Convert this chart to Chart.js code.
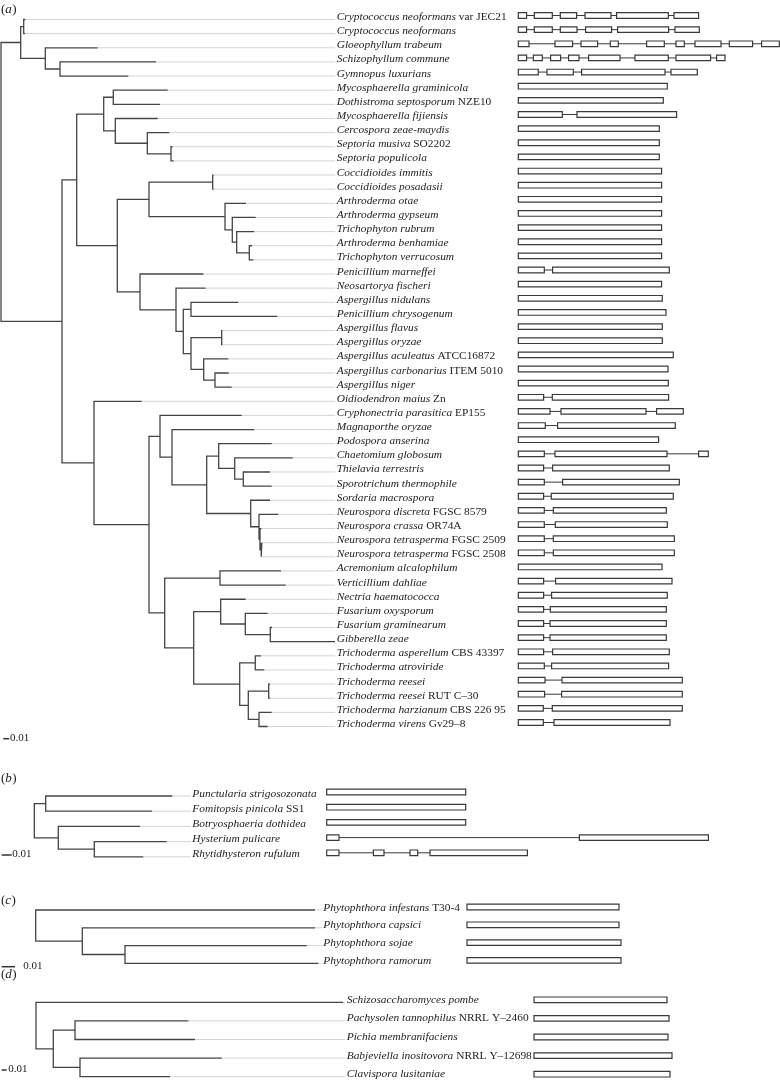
<!DOCTYPE html>
<html>
<head>
<meta charset="utf-8">
<script src="https://cdn.jsdelivr.net/npm/chart.js@4.4.1/dist/chart.umd.min.js"></script>
<style>
  body { margin: 0; background: #fff; }
  #wrap { position: relative; width: 780px; height: 1081px; }
  #wrap canvas { position: absolute; left: 0; top: 0; }
</style>
</head>
<body>
<div id="wrap">
  <canvas id="panelA" width="780" height="1081"></canvas>
  <canvas id="panelB" width="780" height="1081"></canvas>
  <canvas id="panelC" width="780" height="1081"></canvas>
  <canvas id="panelD" width="780" height="1081"></canvas>
</div>
<script>
// ---- panel (a) ----
const namesA = ['Cryptococcus neoformans', 'Cryptococcus neoformans', 'Gloeophyllum trabeum', 'Schizophyllum commune',
  'Gymnopus luxurians', 'Mycosphaerella graminicola', 'Dothistroma septosporum', 'Mycosphaerella fijiensis',
  'Cercospora zeae-maydis', 'Septoria musiva', 'Septoria populicola', 'Coccidioides immitis', 'Coccidioides posadasii',
  'Arthroderma otae', 'Arthroderma gypseum', 'Trichophyton rubrum', 'Arthroderma benhamiae', 'Trichophyton verrucosum',
  'Penicillium marneffei', 'Neosartorya fischeri', 'Aspergillus nidulans', 'Penicillium chrysogenum',
  'Aspergillus flavus', 'Aspergillus oryzae', 'Aspergillus aculeatus', 'Aspergillus carbonarius', 'Aspergillus niger',
  'Oidiodendron maius', 'Cryphonectria parasitica', 'Magnaporthe oryzae', 'Podospora anserina', 'Chaetomium globosum',
  'Thielavia terrestris', 'Sporotrichum thermophile', 'Sordaria macrospora', 'Neurospora discreta', 'Neurospora crassa',
  'Neurospora tetrasperma', 'Neurospora tetrasperma', 'Acremonium alcalophilum', 'Verticillium dahliae',
  'Nectria haematococca', 'Fusarium oxysporum', 'Fusarium graminearum', 'Gibberella zeae', 'Trichoderma asperellum',
  'Trichoderma atroviride', 'Trichoderma reesei', 'Trichoderma reesei', 'Trichoderma harzianum', 'Trichoderma virens'];
const strainsA = ['var JEC21', '', '', '', '', '', 'NZE10', '', '', 'SO2202', '', '', '', '', '', '', '', '', '', '', '', '',
  '', '', 'ATCC16872', 'ITEM 5010', '', 'Zn', 'EP155', '', '', '', '', '', '', 'FGSC 8579', 'OR74A', 'FGSC 2509',
  'FGSC 2508', '', '', '', '', '', '', 'CBS 43397', '', '', 'RUT C\u201330', 'CBS 226 95', 'Gv29\u20138'];
// tip depth of each leaf (tree units, 6 units = 0.01)
const tipsA = [24.2, 24, 96.7, 155, 127.3, 166.7, 159, 156.7, 168.3, 171.5, 172.7, 212.7, 212.7, 245, 254.7, 253, 251,
  252.3, 202.3, 204.7, 237.3, 276.3, 221.5, 221.5, 227.3, 227.7, 230.7, 140.7, 240.7, 253.3, 270.7, 291.7, 269, 270.7,
  269, 277.3, 260.5, 260.8, 260.8, 280, 284.7, 244.7, 266.7, 271, 334, 260, 263.3, 269, 269, 270.7, 266.7];
// [node depth, child, child]; a number is a leaf index
const treeA = [0,
  [19.7, [22.7, 0, 1], [44.3, 2, [59, 3, 4]]],
  [61,
    [75.7,
      [102.7, [112.3, 5, 6], [114.3, 7, [146.3, 8, [170, 9, 10]]]],
      [116.3,
        [148, [211.7, 11, 12], [224, 13, [231.3, 14, [235.7, 15, [248.3, 16, 17]]]]],
        [139, 18, [175, 19, [182.3, [190, 20, 21], [190, [220.7, 22, 23], [202.7, 24, [214, 25, 26]]]]]]]],
    [93, 27,
      [148,
        [159, 28, [171, 29, [205.7, [217.7, 30, [233.7, 31, [242.3, 32, 33]]],
          [249.7, 34, [258, 35, [259, 36, [260, 37, 38]]]]]]],
        [163.7, [219, 39, 40],
          [192.7, [219.7, 41, [244.3, 42, [269.3, 43, 44]]],
            [238.7, [254.3, 45, 46], [247.3, [267.7, 47, 48], [258, 49, 50]]]]]]]]];
// exon [start, end] per gene
const exonsA = [
  [[0, 8.3], [16, 34], [42, 58.3], [66.7, 92.7], [98.3, 150], [155.7, 180.3]],
  [[0, 8.3], [16, 34], [42, 58.7], [67.3, 93.3], [99.3, 150.3], [156.7, 181]],
  [[0, 10.7], [36.7, 54.3], [62.7, 79.3], [92, 100], [128.3, 146], [157.7, 166], [176.7, 202.7], [211, 234.3], [243.3, 261]],
  [[0, 8.3], [15, 24], [32.3, 42.3], [50.3, 60.7], [70.3, 101.7], [116.7, 150], [157.7, 192.3], [198.3, 206.7]],
  [[0, 20], [28.7, 55], [63.3, 146.7], [152.7, 179]],
  [[0, 149]], [[0, 145]], [[0, 44], [58.7, 158.3]], [[0, 141]], [[0, 141]], [[0, 141]],
  [[0, 143.3]], [[0, 143.3]], [[0, 143.3]], [[0, 143.3]], [[0, 143.3]], [[0, 143.3]], [[0, 143.3]],
  [[0, 26], [34.3, 151]], [[0, 143.3]], [[0, 144]], [[0, 147.7]], [[0, 144]], [[0, 144]], [[0, 155]],
  [[0, 149.7]], [[0, 150]], [[0, 25.3], [34, 150.3]], [[0, 31.7], [42.7, 127.7], [138.3, 165]],
  [[0, 27], [39.3, 157]], [[0, 140.3]], [[0, 26], [36.7, 148.7], [180.3, 190]], [[0, 25.3], [34.3, 151]],
  [[0, 26], [44.3, 161]], [[0, 25.3], [33, 155]], [[0, 26], [35, 148]], [[0, 26], [37, 149]],
  [[0, 26], [35, 156]], [[0, 26], [35, 156]], [[0, 143.7]], [[0, 25.3], [37.3, 153.7]],
  [[0, 25.3], [33.3, 149]], [[0, 25.3], [32, 148]], [[0, 25.3], [31.7, 148]], [[0, 25.3], [31.7, 148]],
  [[0, 25.3], [34.3, 151]], [[0, 26], [33.3, 150.3]], [[0, 26.7], [43.7, 164]], [[0, 26.3], [43.3, 164]],
  [[0, 25], [34, 164]], [[0, 25], [35.7, 151.7]]];

// ---- panel (b) ----
const namesB = ['Punctularia strigosozonata', 'Fomitopsis pinicola', 'Botryosphaeria dothidea', 'Hysterium pulicare',
  'Rhytidhysteron rufulum'];
const strainsB = ['', 'SS1', '', '', ''];
const tipsB = [138, 117.7, 105.7, 132.4, 109];
const treeB = [0, [11.4, 0, 1], [24, 2, [60, 3, 4]]];
const exonsB = [[[0, 139]], [[0, 139]], [[0, 139]], [[0, 12.3], [252.7, 381.7]],
  [[0, 12.3], [46.7, 57.3], [83.3, 91], [103.3, 200.7]]];

// ---- panel (c) ----
const namesC = ['Phytophthora infestans', 'Phytophthora capsici', 'Phytophthora sojae', 'Phytophthora ramorum'];
const strainsC = ['T30-4', '', '', ''];
const tipsC = [279.3, 279.3, 271, 282.6];
const treeC = [0, 0, [46.6, 1, [89.3, 2, 3]]];
const exonsC = [[[0, 152]], [[0, 152]], [[0, 154]], [[0, 154]]];

// ---- panel (d) ----
const namesD = ['Schizosaccharomyces pombe', 'Pachysolen tannophilus', 'Pichia membranifaciens',
  'Babjeviella inositovora', 'Clavispora lusitaniae'];
const strainsD = ['', 'NRRL Y\u20132460', '', 'NRRL Y\u201312698', ''];
const tipsD = [307, 152.3, 159, 185.7, 134];
const treeD = [0, 0, [17.3, [39, 1, 2], [44, 3, 4]]];
const exonsD = [[[0, 133]], [[0, 135]], [[0, 134]], [[0, 138]], [[0, 136]]];

// length of the 0.01 scale bar in each panel's tree units
const scaleBars = { a: 6, b: 10, c: 13.3, d: 5 };

const W = 780, H = 1081;
const SERIF = '"Liberation Serif", "Times New Roman", serif';

function gap() { return { x: null, y: null }; }

// walk the tree, push elbow lines, return {y, d} of the node
function walk(node, tips, pts) {
  if (typeof node === 'number') return { y: node, d: tips[node] };
  const a = walk(node[1], tips, pts);
  const b = walk(node[2], tips, pts);
  pts.push({ x: a.d, y: a.y }, { x: node[0], y: a.y }, { x: node[0], y: b.y }, { x: b.d, y: b.y }, gap());
  return { y: (a.y + b.y) / 2, d: node[0] };
}

function labelPlugin(p) {
  return {
    id: 'labels' + p.tag,
    afterDatasetsDraw(chart) {
      const ctx = chart.ctx;
      const ys = chart.scales.y;
      ctx.save();
      ctx.fillStyle = '#222';
      ctx.textBaseline = 'alphabetic';
      p.names.forEach(function(n, i) {
        const py = ys.getPixelForValue(i) + 0.5;
        ctx.font = 'italic 11.4px ' + SERIF;
        ctx.fillText(n, p.labelX, py);
        if (p.strains[i]) {
          const w = ctx.measureText(n + ' ').width;
          ctx.font = '11.4px ' + SERIF;
          ctx.fillText(p.strains[i], p.labelX + w, py);
        }
      });
      // panel tag like (a)
      ctx.textBaseline = 'middle';
      ctx.font = '13px ' + SERIF;
      let x = 1;
      ctx.fillText('(', x, p.tagY);
      x += ctx.measureText('(').width;
      ctx.font = 'italic 13px ' + SERIF;
      ctx.fillText(p.tag, x, p.tagY);
      x += ctx.measureText(p.tag).width + 0.5;
      ctx.font = '13px ' + SERIF;
      ctx.fillText(')', x, p.tagY);
      // scale bar text
      ctx.font = '11px ' + SERIF;
      ctx.fillText('0.01', p.barTextX, p.barY - 1);
      ctx.restore();
    }
  };
}

function makePanel(id, p) {
  const branches = [];
  walk(p.tree, p.tips, branches);

  const connectors = [];
  const labelUnit = p.labelX - p.rootX - 1.5;
  p.tips.forEach(function(t, i) {
    if (t < labelUnit) connectors.push({ x: t, y: i }, { x: labelUnit, y: i }, gap());
  });

  const boxes = [];
  const introns = [];
  const yc0 = p.boxDy / p.step;
  const h = 2.8 / p.step;
  p.exons.forEach(function(gene, i) {
    const yc = i + yc0;
    gene.forEach(function(ex, k) {
      boxes.push({ x: ex[0], y: yc - h }, { x: ex[1], y: yc - h }, { x: ex[1], y: yc + h },
        { x: ex[0], y: yc + h }, { x: ex[0], y: yc - h }, gap());
      if (k > 0) introns.push({ x: gene[k - 1][1], y: yc }, { x: ex[0], y: yc }, gap());
    });
  });

  const barRow = (p.barY - p.rowTop) / p.step;
  const barStart = p.barX - p.rootX;
  const bar = [{ x: barStart, y: barRow }, { x: barStart + p.barLen, y: barRow }];

  const common = { showLine: true, pointRadius: 0, pointHoverRadius: 0, spanGaps: false, tension: 0, clip: false, fill: false };

  return new Chart(document.getElementById(id), {
    type: 'scatter',
    data: {
      datasets: [
        Object.assign({ label: 'branches', data: branches, borderColor: '#454545', borderWidth: 1.3 }, common),
        Object.assign({ label: 'scale', data: bar, borderColor: '#333', borderWidth: 1.5 }, common),
        Object.assign({ label: 'exons', data: boxes, xAxisID: 'g', borderColor: '#3a3a3a', borderWidth: 1.2,
          borderCapStyle: 'square' }, common),
        Object.assign({ label: 'introns', data: introns, xAxisID: 'g', borderColor: '#3a3a3a', borderWidth: 1 }, common),
        Object.assign({ label: 'connectors', data: connectors, borderColor: '#cfcfcf', borderWidth: 0.9 }, common)
      ]
    },
    options: {
      responsive: false,
      animation: false,
      devicePixelRatio: 1,
      events: [],
      layout: { padding: 0 },
      plugins: { legend: { display: false }, tooltip: { enabled: false } },
      scales: {
        x: { type: 'linear', display: false, bounds: 'data', min: -p.rootX, max: W - p.rootX },
        g: { type: 'linear', axis: 'x', display: false, bounds: 'data', min: -p.geneX, max: W - p.geneX },
        y: { type: 'linear', display: false, bounds: 'data', reverse: true,
             min: -p.rowTop / p.step, max: (H - p.rowTop) / p.step }
      }
    },
    plugins: [labelPlugin(p)]
  });
}

makePanel('panelA', { tag: 'a', names: namesA, strains: strainsA, tips: tipsA, tree: treeA, exons: exonsA,
  barLen: scaleBars.a, rootX: 1, labelX: 336.7, geneX: 518.3, rowTop: 19.5, step: 14.14,
  tagY: 10, barY: 738.7, barX: 3.3, barTextX: 10, boxDy: -4 });
makePanel('panelB', { tag: 'b', names: namesB, strains: strainsB, tips: tipsB, tree: treeB, exons: exonsB,
  barLen: scaleBars.b, rootX: 34.3, labelX: 192.3, geneX: 326.7, rowTop: 796, step: 15.2,
  tagY: 778.3, barY: 855, barX: 1.7, barTextX: 12.3, boxDy: -4 });
makePanel('panelC', { tag: 'c', names: namesC, strains: strainsC, tips: tipsC, tree: treeC, exons: exonsC,
  barLen: scaleBars.c, rootX: 35.7, labelX: 323.3, geneX: 467, rowTop: 910, step: 17.8,
  tagY: 900.7, barY: 966.7, barX: 1.7, barTextX: 23.3, boxDy: -3 });
makePanel('panelD', { tag: 'd', names: namesD, strains: strainsD, tips: tipsD, tree: treeD, exons: exonsD,
  barLen: scaleBars.d, rootX: 36, labelX: 346.7, geneX: 534, rowTop: 1002.3, step: 18.6,
  tagY: 974.3, barY: 1070, barX: 1.7, barTextX: 8.3, boxDy: -2.5 });
</script>
</body>
</html>
